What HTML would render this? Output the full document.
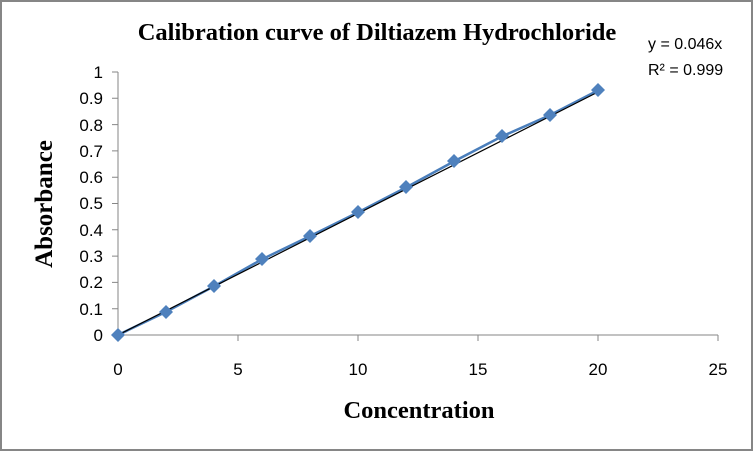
<!DOCTYPE html>
<html><head><style>html,body{margin:0;padding:0;background:#fff}</style></head><body>
<svg width="753" height="451" xmlns="http://www.w3.org/2000/svg" style="display:block">
<rect x="1" y="1" width="751" height="449" fill="#fff" stroke="#868686" stroke-width="2"/>
<text x="377" y="40" font-family="Liberation Serif, serif" font-weight="bold" font-size="24.5" text-anchor="middle">Calibration curve of Diltiazem Hydrochloride</text>
<text x="648" y="49" font-family="Liberation Sans, sans-serif" font-size="16">y = 0.046x</text>
<text x="648" y="75" font-family="Liberation Sans, sans-serif" font-size="16">R² = 0.999</text>
<g stroke="#868686" stroke-width="1" fill="none">
<line x1="118" y1="72" x2="118" y2="335"/>
<line x1="118" y1="335" x2="718" y2="335"/>
<path d="M112 72H118M112 98.3H118M112 124.6H118M112 150.9H118M112 177.2H118M112 203.5H118M112 229.8H118M112 256.1H118M112 282.4H118M112 308.7H118M112 335H118"/>
<path d="M118 335V341M238 335V341M358 335V341M478 335V341M598 335V341M718 335V341"/>
</g>
<g font-family="Liberation Sans, sans-serif" font-size="17" text-anchor="end">
<text x="103" y="78">1</text><text x="103" y="104">0.9</text><text x="103" y="131">0.8</text><text x="103" y="157">0.7</text><text x="103" y="183">0.6</text><text x="103" y="209">0.5</text><text x="103" y="236">0.4</text><text x="103" y="262">0.3</text><text x="103" y="288">0.2</text><text x="103" y="315">0.1</text><text x="103" y="341">0</text>
</g>
<g font-family="Liberation Sans, sans-serif" font-size="17" text-anchor="middle">
<text x="118" y="375">0</text><text x="238" y="375">5</text><text x="358" y="375">10</text><text x="478" y="375">15</text><text x="598" y="375">20</text><text x="718" y="375">25</text>
</g>
<text x="419" y="418" font-family="Liberation Serif, serif" font-weight="bold" font-size="24.5" text-anchor="middle">Concentration</text>
<text transform="translate(52,204) rotate(-90)" font-family="Liberation Serif, serif" font-weight="bold" font-size="25" text-anchor="middle">Absorbance</text>
<polyline fill="none" stroke="#4a7ebb" stroke-width="2.5" points="118,335 166,311.9 214,286.3 262,259.3 310,236.1 358,212.4 406,187.5 454,161.4 502,136.4 550,115.1 598,90.4"/>
<line x1="118" y1="335" x2="598" y2="92" stroke="#000" stroke-width="1.2"/>
<g fill="#4f81bd">
<path d="M118 328l7 7-7 7-7-7z"/><path d="M166 305l7 7-7 7-7-7z"/><path d="M214 279l7 7-7 7-7-7z"/><path d="M262 252l7 7-7 7-7-7z"/><path d="M310 229l7 7-7 7-7-7z"/><path d="M358 205l7 7-7 7-7-7z"/><path d="M406 180l7 7-7 7-7-7z"/><path d="M454 154l7 7-7 7-7-7z"/><path d="M502 129l7 7-7 7-7-7z"/><path d="M550 108l7 7-7 7-7-7z"/><path d="M598 83l7 7-7 7-7-7z"/>
</g>
</svg>
</body></html>
